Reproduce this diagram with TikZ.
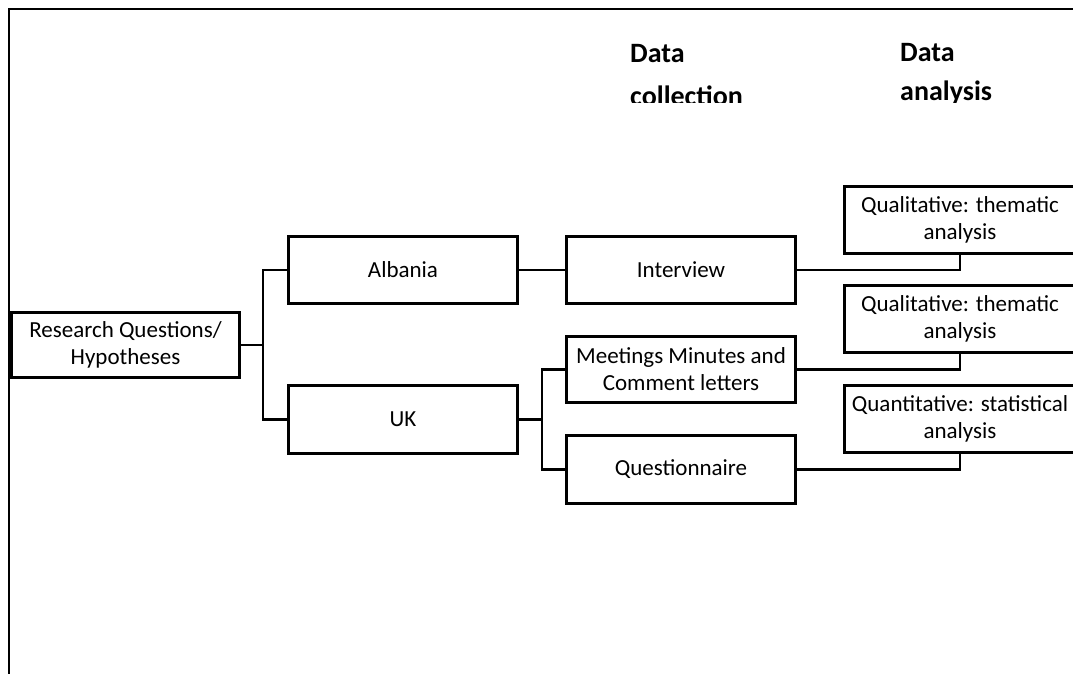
\documentclass[tikz,border=0pt]{standalone}
\usepackage{fontspec}
\setmainfont{Carlito}
\begin{document}
\begin{tikzpicture}[x=1pt,y=-1pt,
  box/.style={draw, line width=3.6pt, minimum width=229pt, minimum height=67pt, inner sep=0pt, align=center, font=\fontsize{23}{27}\selectfont},
  conn/.style={line width=2.3pt},
  head/.style={anchor=base west, inner sep=0pt, font=\fontsize{28}{28}\selectfont\bfseries}]
\useasboundingbox (0,0) rectangle (1073,674);
\clip (0,0) rectangle (1073,674);
% frame
\draw[line width=2.2pt] (9,675) -- (9,9) -- (1074,9);
% headings
\begin{scope}
\clip (600,0) rectangle (800,103);
\node[head] (h1a) at (630,63) {Data};
\node[head] (h1b) at (630,106) {collection};
\end{scope}
\begin{scope}
\clip (880,0) rectangle (1073,103);
\node[head] (h2a) at (900,62) {Data};
\node[head] (h2b) at (900,101) {analysis};
\end{scope}
% boxes
\node[box, minimum width=228pt, minimum height=65pt] (rq) at (125.5,345) {Research Questions/\\Hypotheses};
\node[box] (alb) at (403,270) {Albania};
\node[box, minimum height=68pt] (uk) at (403,419.5) {UK};
\node[box] (int) at (681,270) {Interview};
\node[box, minimum height=66pt] (mm) at (681,369.5) {Meetings Minutes and\\Comment letters};
\node[box, minimum height=68pt] (qn) at (681,469.5) {Questionnaire};
\node[box, minimum width=231pt] (qa1) at (960,220) {Qualitative: thematic\\analysis};
\node[box, minimum width=231pt] (qa2) at (960,319) {Qualitative: thematic\\analysis};
\node[box, minimum width=231pt] (qa3) at (960,419) {Quantitative: statistical\\analysis};
% junctions
\coordinate (j1) at (263,345);
\coordinate (j2) at (542,419.5);
\draw[conn] (rq.east) -- (j1);
\draw[conn] (j1) |- (alb.west);
\draw[conn] (j1) |- (uk.west);
\draw[conn] (alb.east) -- (int.west);
\draw[conn] (uk.east) -- (j2);
\draw[conn] (j2) |- (mm.west);
\draw[conn] (j2) |- (qn.west);
\draw[conn] (int.east) -| (qa1.south);
\draw[conn] (mm.east) -| (qa2.south);
\draw[conn] (qn.east) -| (qa3.south);
\end{tikzpicture}
\end{document}
